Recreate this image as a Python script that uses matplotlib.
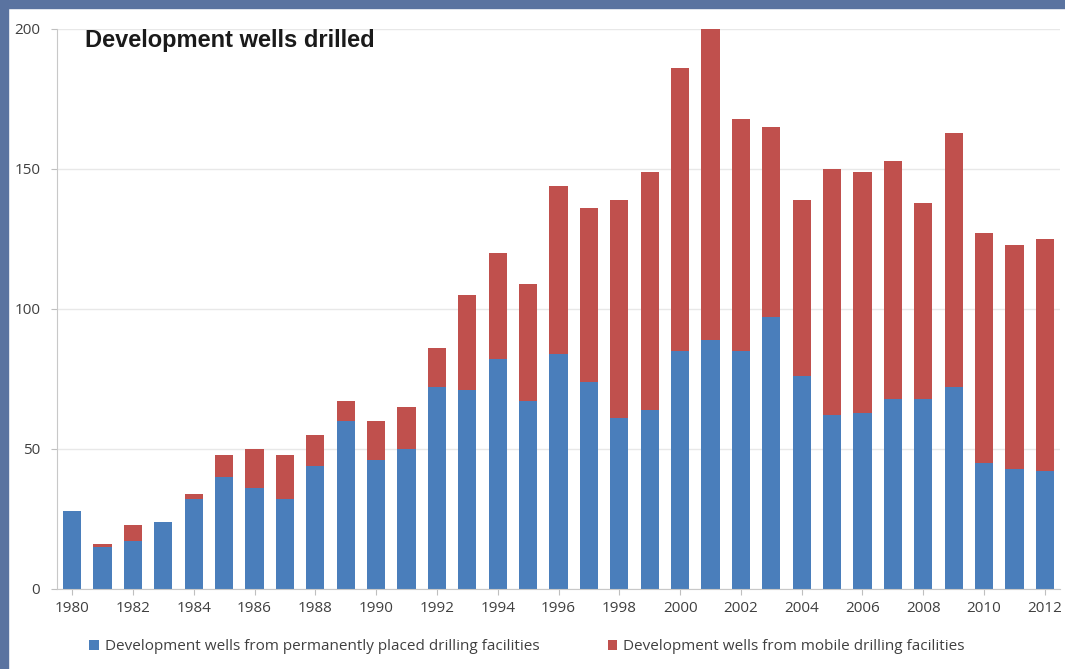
import matplotlib.pyplot as plt
from matplotlib.patches import Rectangle

# Development wells drilled per year
years = list(range(1980, 2013))
permanent = [28, 15, 17, 24, 32, 40, 36, 32, 44, 60, 46, 50, 72, 71, 82, 67,
             84, 74, 61, 64, 85, 89, 85, 97, 76, 62, 63, 68, 68, 72, 45, 43, 42]
total = [28, 16, 23, 24, 34, 48, 50, 48, 55, 67, 60, 65, 86, 105, 120, 109,
         144, 136, 139, 149, 186, 200, 168, 165, 139, 150, 149, 153, 138, 163, 127, 123, 125]
mobile = [t - p for t, p in zip(total, permanent)]

tick_years = years[::2]
y_ticks = [0, 50, 100, 150, 200]

blue = '#4a7ebb'
red = '#c0504d'
frame = '#5a73a0'

plt.rcParams['font.family'] = ['Open Sans', 'DejaVu Sans']

fig = plt.figure(figsize=(10.65, 6.69), dpi=100)
fig.patch.set_facecolor('white')

# blue frame on the left and top edges
fig.patches.append(Rectangle((0, 0), 8 / 1065, 1, transform=fig.transFigure,
                             color=frame, zorder=0))
fig.patches.append(Rectangle((0, 1 - 8 / 669), 1, 8 / 669, transform=fig.transFigure,
                             color=frame, zorder=0))

ax = fig.add_axes([57 / 1065, 80 / 669, 1003 / 1065, 560 / 669])
ax.bar(years, permanent, width=0.6, color=blue, zorder=2,
       label='Development wells from permanently placed drilling facilities')
ax.bar(years, mobile, width=0.6, bottom=permanent, color=red, zorder=2,
       label='Development wells from mobile drilling facilities')

ax.set_xlim(1979.5, 2012.5)
ax.set_ylim(0, 200)
ax.set_xticks(tick_years)
ax.set_xticklabels([str(y) for y in tick_years])
ax.set_yticks(y_ticks)
ax.tick_params(axis='both', labelsize=11, colors='#bfbfbf', labelcolor='#404040', length=4)
ax.tick_params(axis='y', pad=8)
ax.tick_params(axis='x', pad=5)

ax.yaxis.grid(True, color='#e8e8e8', linewidth=1, zorder=0)
ax.set_axisbelow(True)
for side in ['top', 'right']:
    ax.spines[side].set_visible(False)
ax.spines['left'].set_color('#c8c8c8')
ax.spines['bottom'].set_color('#c8c8c8')

fig.text(85 / 1065, 1 - 41 / 669, 'Development wells drilled', fontsize=17,
         fontweight='bold', family='Liberation Sans', color='#1a1a1a', va='center')

handles, labels = ax.get_legend_handles_labels()
fig.legend(handles, labels, loc='center', bbox_to_anchor=(0.495, 1 - 647 / 669), ncol=2,
           frameon=False, fontsize=11, handlelength=0.6, handleheight=0.6,
           handletextpad=0.4, columnspacing=4.5, labelcolor='#404040')

fig.savefig('out.png', dpi=100)
